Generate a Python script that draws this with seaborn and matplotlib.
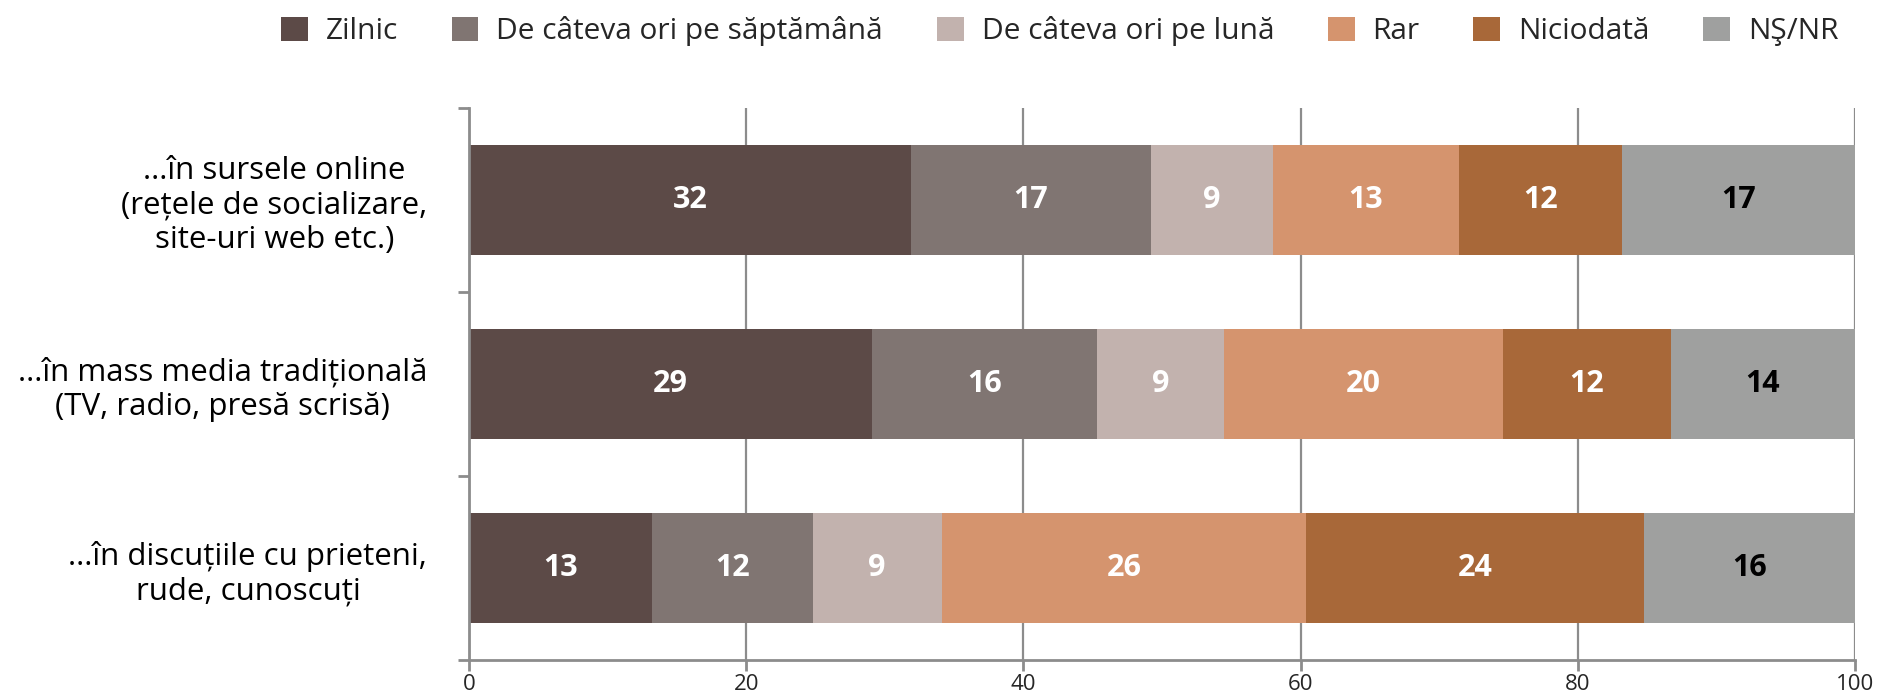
import numpy as np
import pandas as pd
import matplotlib
matplotlib.use("Agg")
import matplotlib.pyplot as plt
from matplotlib.patches import Patch
import seaborn as sns

categories = ["...în sursele online\n(rețele de socializare,\nsite-uri web etc.)",
              "...în mass media tradițională\n(TV, radio, presă scrisă)",
              "...în discuțiile cu prieteni,\nrude, cunoscuți"]
answers = ["Zilnic", "De câteva ori pe săptămână", "De câteva ori pe lună",
           "Rar", "Niciodată", "NŞ/NR"]
zilnic = [31.9, 29.1, 13.2]
saptamana = [17.3, 16.2, 11.6]
luna = [8.8, 9.2, 9.3]
rar = [13.4, 20.1, 26.3]
niciodata = [11.8, 12.1, 24.4]
nsnr = [16.8, 13.6, 15.6]

colors = ["#5c4a47", "#807572", "#c2b2ae", "#d5946e", "#a86839", "#9fa09f"]
text_colors = ["white", "white", "white", "white", "white", "black"]
grey = "#8c8c8c"

df = pd.DataFrame(dict(zip(answers, [zilnic, saptamana, luna, rar, niciodata, nsnr])),
                  index=categories)
cum = df.cumsum(axis=1)

sns.set_theme(style="white")
plt.rcParams['font.family'] = ['Open Sans', 'DejaVu Sans']

fig = plt.figure(figsize=(18.79, 6.96), dpi=100)
ax = fig.add_axes([0.2496, 0.0517, 0.7376, 0.7933])

# stacked bars: draw cumulative totals from the back to the front
for col, c in reversed(list(zip(answers, colors))):
    sns.barplot(x=cum[col].values, y=categories, color=c, orient="h",
                width=0.6, saturation=1, linewidth=0, ax=ax, zorder=2)

for i, cat in enumerate(categories):
    start = 0
    for col, tc in zip(answers, text_colors):
        v = df.loc[cat, col]
        end = min(start + v, 100)
        ax.text((start + end) / 2, i, f"{v:.0f}", ha="center", va="center",
                color=tc, fontsize=22, fontweight="bold", zorder=3)
        start += v

ax.set_xlim(0, 100)
ax.set_ylim(2.5, -0.5)
ax.set_xticks(range(0, 101, 20))
ax.set_xlabel("")
ax.set_ylabel("")
ax.xaxis.grid(True, color=grey, linewidth=1.6, zorder=0)
ax.set_axisbelow(True)
for s in ["top", "right"]:
    ax.spines[s].set_visible(False)
for s in ["left", "bottom"]:
    ax.spines[s].set_color(grey)
    ax.spines[s].set_linewidth(2)

ax.set_yticks(range(3))
ax.set_yticklabels(categories, multialignment="center", fontsize=22.5)
ax.set_yticks([-0.5, 0.5, 1.5, 2.5], minor=True)
ax.tick_params(axis="y", which="major", length=0, pad=30, colors="black")
ax.tick_params(axis="y", which="minor", left=True, length=8, width=2, color=grey)
ax.tick_params(axis="x", bottom=True, length=8, width=2, color=grey,
               labelsize=16, pad=2)

handles = [Patch(facecolor=c, edgecolor="none") for c in colors]
fig.legend(handles, answers, loc="center", bbox_to_anchor=(0.564, 0.955), ncol=6,
           frameon=False, fontsize=21.5, handlelength=0.9, handleheight=0.9,
           handletextpad=0.6, columnspacing=1.8)

fig.savefig("out.png", dpi=100)
